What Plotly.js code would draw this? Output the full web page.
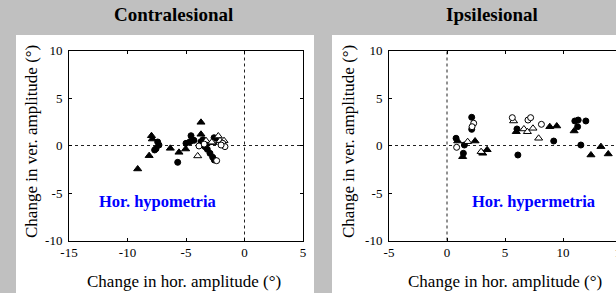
<!DOCTYPE html>
<html><head><meta charset="utf-8">
<script src="https://cdn.plot.ly/plotly-3.0.1.min.js"></script>
<style>html,body{margin:0;padding:0;overflow:hidden;background:#c0c0c0;width:616px;height:293px}#chart{width:630px;height:293px}</style>
</head><body><div id="chart"></div>
<script>
// ---- Data: Contralesional (left panel) ----
const contraFilledTriX = [-9.13, -8.15, -7.95, -7.88, -6.34, -5.6, -5.03, -3.72, -3.72, -3.3, -2.45];
const contraFilledTriY = [-2.47, -1.07, 1.03, 0.68, -0.3, -0.72, -0.37, 2.44, 1.18, 0.2, 0.7];
const contraFilledCirX = [-7.42, -7.31, -7.56, -7.68, -5.71, -5.0, -4.66, -4.32, -4.57, -3.72, -3.38, -3.18, -2.95, -2.72, -2.58, -2.6, -3.55];
const contraFilledCirY = [0.37, 0.05, -0.33, -0.47, -1.77, 0.23, 0.4, 0.54, 1.03, 0.4, -0.12, -0.4, -0.82, -1.24, -1.53, 0.82, 0.6];
const contraOpenCirX = [-3.89, -2.38, -1.86, -1.67, -3.45, -2.0];
const contraOpenCirY = [-0.05, -1.6, 0.23, -0.12, 0.15, 0.05];
const contraOpenTriX = [-4.0, -3.29, -2.67, -2.24, -2.09, -1.75, -2.8];
const contraOpenTriY = [-1.1, 0.51, 0.3, 1.0, 0.51, 0.51, 0.35];

// ---- Data: Ipsilesional (right panel) ----
const ipsiFilledCirX = [0.78, 1.5, 1.41, 2.13, 2.13, 6.03, 6.11, 9.2, 11.02, 11.31, 11.26, 11.97, 11.54];
const ipsiFilledCirY = [0.76, 0.05, -0.82, 2.97, 1.7, 1.74, -1.0, 0.47, 2.58, 2.68, 1.98, 2.58, 0.05];
const ipsiFilledTriX = [0.92, 1.35, 2.42, 3.08, 3.46, 5.97, 8.86, 9.46, 10.96, 12.41, 13.27, 13.9];
const ipsiFilledTriY = [0.47, -1.18, 0.47, -0.82, -0.45, 1.45, 1.98, 2.05, 1.53, -1.0, -0.12, -0.89];
const ipsiOpenCirX = [0.83, 2.3, 2.16, 5.63, 6.98, 7.21, 8.14];
const ipsiOpenCirY = [-0.19, 2.34, 1.98, 2.93, 2.68, 2.93, 2.23];
const ipsiOpenTriX = [1.78, 2.94, 5.74, 6.63, 6.93, 7.41, 7.9];
const ipsiOpenTriY = [0.4, -0.65, 2.58, 1.74, 1.45, 1.81, 0.76];

// ---- Ticks ----
const yTickVals = [-10, -5, 0, 5, 10];
const yTickText = ["-10", "-5", "0", "5", "10"];
const contraXTickVals = [-15, -10, -5, 0, 5];
const contraXTickText = ["-15", "-10", "-5", "0", "5"];
const ipsiXTickVals = [-5, 0, 5, 10, 15];
const ipsiXTickText = ["-5", "0", "5", "10", "15"];

const panelTitles = ["Contralesional", "Ipsilesional"];
const regionLabels = ["Hor. hypometria", "Hor. hypermetria"];
const xTitle = "Change in hor. amplitude (°)";
const yTitle = "Change in ver. amplitude (°)";

const W = 630, H = 293;
const FONT = "Liberation Serif, Times New Roman, Times, serif";
const px = v => v / W;
const py = v => 1 - v / H;

function mk(x, y, sym, filled, size, xa, ya) {
  return {
    x: x, y: y, type: 'scatter', mode: 'markers', xaxis: xa, yaxis: ya, showlegend: false,
    hoverinfo: 'x+y',
    marker: {symbol: sym, size: size, color: filled ? '#000000' : '#ffffff',
             line: {color: '#000000', width: 1}}
  };
}

const data = [
  mk(contraFilledTriX, contraFilledTriY, 'triangle-up', true, 7, 'x', 'y'),
  mk(contraFilledCirX, contraFilledCirY, 'circle', true, 6, 'x', 'y'),
  mk(contraOpenTriX, contraOpenTriY, 'triangle-up', false, 7, 'x', 'y'),
  mk(contraOpenCirX, contraOpenCirY, 'circle', false, 6, 'x', 'y'),
  mk(ipsiFilledTriX, ipsiFilledTriY, 'triangle-up', true, 7, 'x2', 'y2'),
  mk(ipsiFilledCirX, ipsiFilledCirY, 'circle', true, 6, 'x2', 'y2'),
  mk(ipsiOpenTriX, ipsiOpenTriY, 'triangle-up', false, 7, 'x2', 'y2'),
  mk(ipsiOpenCirX, ipsiOpenCirY, 'circle', false, 6, 'x2', 'y2')
];

const axBase = {
  showline: true, linecolor: '#000000', linewidth: 1, mirror: 'ticks',
  ticks: 'inside', ticklen: 3, tickcolor: '#000000', tickwidth: 1,
  showgrid: false, zeroline: false, fixedrange: true,
  tickfont: {family: FONT, size: 13, color: '#000000'}
};
const yDom = [py(240.5), py(50.5)];

function ann(text, x, y, size, color, angle) {
  return {text: text, xref: 'paper', yref: 'paper', x: px(x), y: py(y),
    xanchor: 'center', yanchor: 'middle', showarrow: false, textangle: angle || 0,
    font: {family: FONT, size: size, color: color}};
}

const layout = {
  width: W, height: H,
  margin: {l: 0, r: 0, t: 0, b: 0},
  paper_bgcolor: '#c0c0c0', plot_bgcolor: '#ffffff',
  xaxis: Object.assign({}, axBase, {domain: [px(69), px(303)], range: [-15, 5], anchor: 'y',
    tickmode: 'array', tickvals: contraXTickVals, ticktext: contraXTickText}),
  yaxis: Object.assign({}, axBase, {domain: yDom, range: [-10, 10], anchor: 'x',
    tickmode: 'array', tickvals: yTickVals, ticktext: yTickText, ticklabelstandoff: 3}),
  xaxis2: Object.assign({}, axBase, {domain: [px(389), px(621)], range: [-5, 15], anchor: 'y2',
    tickmode: 'array', tickvals: ipsiXTickVals, ticktext: ipsiXTickText}),
  yaxis2: Object.assign({}, axBase, {domain: yDom, range: [-10, 10], anchor: 'x2',
    tickmode: 'array', tickvals: yTickVals, ticktext: yTickText, ticklabelstandoff: 3}),
  shapes: [
    {type: 'rect', xref: 'paper', yref: 'paper', x0: px(16), x1: px(314), y0: 0, y1: py(35),
     fillcolor: '#ffffff', line: {width: 0}, layer: 'below'},
    {type: 'rect', xref: 'paper', yref: 'paper', x0: px(332), x1: 1, y0: 0, y1: py(35),
     fillcolor: '#ffffff', line: {width: 0}, layer: 'below'},
    {type: 'line', xref: 'x domain', yref: 'y', x0: 0, x1: 1, y0: 0, y1: 0,
     line: {color: '#222222', width: 1, dash: '3px,3px'}, layer: 'below'},
    {type: 'line', xref: 'x', yref: 'y domain', x0: 0, x1: 0, y0: 0, y1: 1,
     line: {color: '#222222', width: 1, dash: '3px,3px'}, layer: 'below'},
    {type: 'line', xref: 'x2 domain', yref: 'y2', x0: 0, x1: 1, y0: 0, y1: 0,
     line: {color: '#222222', width: 1, dash: '3px,3px'}, layer: 'below'},
    {type: 'line', xref: 'x2', yref: 'y2 domain', x0: 0, x1: 0, y0: 0, y1: 1,
     line: {color: '#222222', width: 1, dash: '3px,3px'}, layer: 'below'}
  ],
  annotations: [
    ann('<b>' + panelTitles[0] + '</b>', 173, 15, 19, '#000000'),
    ann('<b>' + panelTitles[1] + '</b>', 492, 15, 19, '#000000'),
    ann('<b>' + regionLabels[0] + '</b>', 157, 201, 16.5, '#0000ff'),
    ann('<b>' + regionLabels[1] + '</b>', 533, 201, 16.5, '#0000ff'),
    ann(xTitle, 184, 281, 17, '#000000'),
    ann(xTitle, 505, 281, 17, '#000000'),
    ann(yTitle, 31, 142, 17, '#000000', -90),
    ann(yTitle, 348, 142, 17, '#000000', -90)
  ]
};

Plotly.newPlot('chart', data, layout, {staticPlot: true, displayModeBar: false});
</script></body></html>
